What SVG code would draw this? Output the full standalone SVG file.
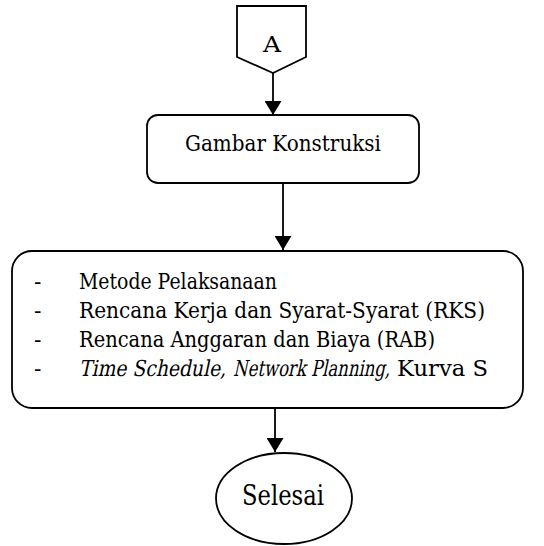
<svg xmlns="http://www.w3.org/2000/svg" width="544" height="546" viewBox="0 0 544 546">
<style>
.s{fill:#fff;stroke:#000;stroke-width:1.8}
.c{stroke:#000;stroke-width:1.8;fill:none}
text{font-family:'DejaVu Serif','Liberation Serif',serif;fill:#000;font-size:22px}
</style>
<defs>
<marker id="ah" viewBox="0 0 14 17" refX="14" refY="8.5" markerWidth="14" markerHeight="17" markerUnits="userSpaceOnUse" orient="auto">
<path d="M0,0 L14,8.5 L0,17 Z" fill="#000"/>
</marker>
</defs>
<rect width="544" height="546" fill="#fff"/>
<g id="connectors">
<line class="c" x1="273" y1="73" x2="273" y2="115" marker-end="url(#ah)"/>
<line class="c" x1="283" y1="183" x2="283" y2="250" marker-end="url(#ah)"/>
<line class="c" x1="275" y1="408" x2="275" y2="452" marker-end="url(#ah)"/>
</g>
<g id="nodeA">
<path class="s" d="M237,6 L306,6 L306,57 L273,73 L237,57 Z"/>
<text x="263" y="52" textLength="18" lengthAdjust="spacingAndGlyphs">A</text>
</g>
<g id="gambar">
<rect class="s" x="147" y="115" width="272" height="68" rx="11"/>
<text x="185" y="151" textLength="196" lengthAdjust="spacingAndGlyphs">Gambar Konstruksi</text>
</g>
<g id="dokumen">
<rect class="s" x="12" y="251" width="511" height="157" rx="20"/>
<text x="34" y="289">-</text>
<text x="79" y="289" textLength="198" lengthAdjust="spacingAndGlyphs">Metode Pelaksanaan</text>
<text x="34" y="318">-</text>
<text x="79" y="318" textLength="406" lengthAdjust="spacingAndGlyphs">Rencana Kerja dan Syarat-Syarat (RKS)</text>
<text x="34" y="347">-</text>
<text x="79" y="347" textLength="356" lengthAdjust="spacingAndGlyphs">Rencana Anggaran dan Biaya (RAB)</text>
<text x="34" y="376">-</text>
<text transform="translate(79,376) skewX(-12)" x="0" y="0" textLength="147" lengthAdjust="spacingAndGlyphs">Time Schedule,</text>
<text transform="translate(233,376) skewX(-12)" x="0" y="0" textLength="157" lengthAdjust="spacingAndGlyphs">Network Planning,</text>
<text x="397" y="376" textLength="91" lengthAdjust="spacingAndGlyphs">Kurva S</text>
</g>
<g id="selesai">
<ellipse class="s" cx="284" cy="498.5" rx="68" ry="45.5"/>
<text x="242" y="505" style="font-size:27px" textLength="82" lengthAdjust="spacingAndGlyphs">Selesai</text>
</g>
</svg>
